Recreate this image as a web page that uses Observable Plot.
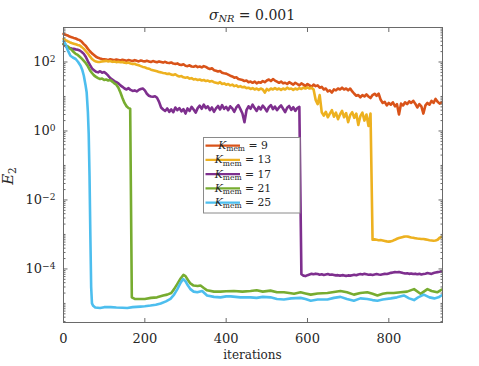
<!DOCTYPE html>
<html>
<head>
<meta charset="utf-8">
<script src="https://cdn.jsdelivr.net/npm/d3@7"></script>
<script src="https://cdn.jsdelivr.net/npm/@observablehq/plot@0.6"></script>
<style>
  html, body { margin: 0; padding: 0; background: #fff; }
  #chart svg { display: block; }
  #chart svg, #chart svg text { font-family: "DejaVu Serif", serif; }
</style>
</head>
<body>
<div id="chart"></div>
<script>
// ---------- data ----------
const seriesK = [9, 13, 17, 21, 25];
const seriesColors = ["#D95319", "#EDB120", "#7E2F8E", "#77AC30", "#4DBEEE"];
const xTicks = [0, 200, 400, 600, 800];
const yTickLabels = [1e-4, 1e-2, 1, 1e2];
const titleText = "0.001";

// K = 9, 13, 17 sampled every 5 iterations, starting at 0
const iterStep = 5;
const e2K9 = [
  650, 620, 590, 545, 525, 500, 480, 450, 430, 385, 330, 290, 240, 205, 178, 160, 142, 132, 126, 122,
  120, 118, 113, 120, 116, 112, 118, 114, 110, 116, 112, 108, 114, 110, 107, 113, 108, 104, 110, 106,
  103, 108, 104, 100, 106, 102, 98, 104, 100, 96, 101, 95, 93, 97, 90, 88, 91, 84, 82, 86,
  78, 76, 80, 74, 73, 77, 71, 74, 70, 76, 72, 66, 63, 66, 58, 56, 53, 55, 49, 47,
  46, 43, 40, 38, 35, 36, 32, 31, 30, 28, 29, 26, 27, 25, 27, 24, 26, 25, 28, 26,
  29, 31, 28, 32, 29, 27, 25, 27, 24, 25, 23, 26, 24, 22, 25, 23, 21, 24, 22, 20,
  23, 21, 19, 22, 20, 21, 18, 19, 16, 17, 14, 15, 13, 16, 15, 17, 16, 18, 16, 17,
  15, 17, 14, 12, 10.5, 11, 9.5, 11, 10, 11.5, 10, 9, 11, 12, 10.5, 12, 8, 6.5, 7, 5.5,
  6.5, 5.8, 6.8, 5.2, 6, 3.0, 6.2, 5.5, 6.8, 6, 7.2, 6.5, 7.5, 6.2, 4.8, 6, 5.2, 3.2, 5.5, 6.5,
  5.8, 7.5, 6.5, 8.5, 7, 6.2, 6.8
];
const e2K13 = [
  465, 430, 400, 375, 355, 340, 325, 310, 300, 270, 240, 205, 175, 145, 122, 110, 103, 100, 101, 104,
  106, 108, 104, 107, 101, 104, 99, 102, 98, 100, 95, 93, 96, 90, 87, 89, 83, 80, 76, 72,
  70, 66, 64, 60, 58, 56, 54, 51, 50, 48, 47, 45, 46, 43, 42, 44, 40, 38, 39, 36,
  35, 36, 33, 34, 31, 32, 30, 31, 29, 30, 28, 29, 27, 28, 26, 25, 24, 26, 23, 24,
  22, 23, 21, 22, 20, 21, 19, 20, 18.5, 19, 17.5, 18, 16.5, 17.5, 16, 17, 15.5, 17, 16, 13,
  16.5, 15, 17, 16, 17.5, 16, 17, 15.5, 17, 16, 18, 16.5, 17, 15.5, 17, 16, 17.5, 16.5, 18, 17,
  18.5, 17, 18, 16, 8, 6, 11, 3.5, 2.8, 3.6, 2.5, 3.2, 4.0, 2.6, 3.4, 2.2, 3.0, 3.8, 2.5, 3.3,
  1.8, 2.9, 3.5, 2.4, 3.2, 1.5, 2.7, 3.4, 2.0, 3.0, 1.4, 3.2, 7.0e-4, 7.2e-4, 7.0e-4, 6.8e-4, 6.9e-4, 6.7e-4, 6.5e-4, 6.3e-4,
  6.2e-4, 6.3e-4, 6.6e-4, 7.0e-4, 7.5e-4, 7.9e-4, 8.2e-4, 8.5e-4, 8.7e-4, 8.7e-4, 8.5e-4, 8.2e-4, 8.0e-4, 7.8e-4, 7.6e-4, 7.5e-4, 7.4e-4, 7.4e-4, 7.2e-4, 7.0e-4,
  6.8e-4, 6.7e-4, 6.6e-4, 6.7e-4, 7.0e-4, 8.0e-4, 8.5e-4
];
const e2K17 = [
  330, 290, 265, 255, 245, 240, 232, 225, 215, 195, 172, 140, 105, 82, 65, 58, 52, 50, 54, 49,
  51, 46, 40, 34, 31, 28, 26, 24, 21, 19, 17, 16, 17.5, 15.5, 14.5, 15, 14, 15.5, 16.5, 17,
  15, 12, 10.5, 10, 9.8, 10.2, 9.2, 7, 4.8, 4.2, 3.8, 4.5, 3.6, 4.2, 3.5, 4.8, 4.0, 4.6, 3.7, 4.3,
  3.2, 4.5, 3.8, 5.0, 4.2, 3.4, 4.6, 5.4, 4.4, 5.8, 4.6, 5.2, 4.0, 4.8, 3.6, 4.5, 5.3, 4.2, 5.6, 4.4,
  5.0, 4.0, 5.2, 4.5, 3.6, 4.8, 5.6, 4.3, 3.2, 1.8, 4.0, 5.2, 4.4, 5.8, 4.6, 3.8, 5.0, 4.2, 5.4, 4.6,
  3.7, 4.9, 5.6, 4.3, 5.1, 4.0, 4.8, 5.5, 4.4, 3.5, 4.7, 5.3, 4.1, 4.9, 3.8, 4.6, 5.0, 7.0e-5, 6.4e-5, 6.2e-5,
  6.6e-5, 6.9e-5, 7.2e-5, 7.0e-5, 7.3e-5, 7.1e-5, 6.8e-5, 7.0e-5, 6.7e-5, 6.9e-5, 7.1e-5, 6.8e-5, 6.9e-5, 6.7e-5, 6.5e-5, 6.6e-5, 6.4e-5, 6.6e-5, 6.5e-5, 6.3e-5,
  6.5e-5, 6.4e-5, 6.6e-5, 6.8e-5, 6.6e-5, 6.9e-5, 7.1e-5, 6.9e-5, 7.2e-5, 7.0e-5, 6.8e-5, 6.9e-5, 6.7e-5, 6.9e-5, 7.1e-5, 6.9e-5, 6.8e-5, 7.0e-5, 7.2e-5, 7.1e-5,
  7.4e-5, 7.7e-5, 7.9e-5, 8.1e-5, 8.0e-5, 8.2e-5, 7.9e-5, 7.6e-5, 7.4e-5, 7.5e-5, 7.2e-5, 7.4e-5, 7.1e-5, 7.3e-5, 7.0e-5, 7.2e-5, 6.9e-5, 7.1e-5, 7.3e-5, 7.6e-5,
  7.4e-5, 7.2e-5, 7.6e-5, 7.9e-5, 8.1e-5, 8.3e-5, 8.6e-5
];

// K = 21 and K = 25 as (iteration, E2) pairs
const itK21 = [0, 5, 10, 15, 20, 25, 30, 35, 40, 45, 50, 55, 60, 65, 70, 75, 80, 85, 90, 95, 100, 105, 110, 115, 120, 125, 130, 135, 140, 145, 150, 155, 160,
  164, 168, 175, 185, 200, 215, 230, 245, 255, 265, 272, 280, 288, 295, 300, 306, 312, 320, 330, 337, 345, 353, 370, 386, 400, 419, 440, 460, 475, 490, 509, 525, 542, 555, 567, 583, 595, 608, 625, 649, 665, 681, 697, 714, 730, 747, 760, 772, 785, 796, 812, 829, 845, 862, 878, 895, 905, 919, 930];
const e2K21 = [330, 305, 285, 250, 225, 195, 172, 160, 142, 125, 108, 92, 75, 58, 48, 41, 37, 34, 32, 33, 30, 31, 29, 30, 27, 24, 22, 18, 13, 9, 6.5, 5.2, 4.6,
  4.4, 1.5e-5, 1.35e-5, 1.35e-5, 1.35e-5, 1.45e-5, 1.5e-5, 1.7e-5, 1.8e-5, 2.0e-5, 2.6e-5, 3.7e-5, 5.3e-5, 6.7e-5, 6.2e-5, 4.8e-5, 3.8e-5, 3.3e-5, 3.2e-5, 3.3e-5, 2.8e-5, 2.4e-5, 2.2e-5, 2.2e-5, 2.25e-5, 2.3e-5, 2.2e-5, 2.3e-5, 2.4e-5, 2.2e-5, 2.35e-5, 2.1e-5, 2.1e-5, 2.0e-5, 1.9e-5, 2.1e-5, 1.95e-5, 1.8e-5, 1.95e-5, 2.0e-5, 2.15e-5, 2.3e-5, 2.1e-5, 1.8e-5, 2.0e-5, 2.1e-5, 1.9e-5, 1.7e-5, 1.9e-5, 2.0e-5, 2.0e-5, 2.1e-5, 2.2e-5, 2.6e-5, 1.9e-5, 2.6e-5, 2.3e-5, 2.1e-5, 2.5e-5];

const itK25 = [0, 5, 9, 13, 17, 23, 30, 36, 42, 46, 50, 54, 57, 60, 62, 64, 66, 68, 70, 73, 78, 90, 100, 116, 130, 145, 157, 170, 189, 200,
  214, 227, 239, 252, 263, 272, 280, 288, 294, 300, 306, 312, 320, 329, 341, 353, 370, 386, 400, 411, 435, 460, 475, 490, 509, 525, 542, 560, 583, 595,
  608, 625, 649, 665, 681, 697, 714, 730, 747, 760, 772, 785, 805, 820, 837, 850, 862, 872, 886, 900, 912, 922, 930];
const e2K25 = [400, 330, 240, 190, 152, 135, 122, 100, 78, 60, 40, 22, 13, 3.5, 0.8, 0.05, 1e-3, 3e-5, 1.0e-5, 8.5e-6,
  7.6e-6, 7.4e-6, 7.8e-6, 7.8e-6, 7.6e-6, 7.5e-6, 7.4e-6, 7.8e-6, 8.1e-6, 8.3e-6,
  8.7e-6, 9.2e-6, 1.0e-5, 1.15e-5, 1.35e-5, 1.8e-5, 2.6e-5, 4.0e-5, 5.1e-5, 4.4e-5,
  3.3e-5, 2.6e-5, 2.2e-5, 2.1e-5, 2.3e-5, 1.7e-5, 1.55e-5, 1.5e-5, 1.6e-5, 1.6e-5,
  1.5e-5, 1.5e-5, 1.45e-5, 1.55e-5, 1.5e-5, 1.35e-5, 1.3e-5, 1.4e-5, 1.45e-5, 1.35e-5,
  1.2e-5, 1.3e-5, 1.3e-5, 1.45e-5, 1.55e-5, 1.35e-5, 1.2e-5, 1.4e-5, 1.35e-5, 1.25e-5,
  1.2e-5, 1.3e-5, 1.4e-5, 1.5e-5, 1.7e-5, 1.4e-5, 1.25e-5, 1.5e-5, 1.8e-5, 1.5e-5,
  1.4e-5, 1.5e-5, 1.7e-5];

// ---------- table for Plot ----------
const rows = [];
[e2K9, e2K13, e2K17].forEach((arr, s) =>
  arr.forEach((v, i) => rows.push({K: seriesK[s], it: i * iterStep, E2: v})));
[[itK21, e2K21, 3], [itK25, e2K25, 4]].forEach(([xs, ys, s]) =>
  xs.forEach((x, i) => rows.push({K: seriesK[s], it: x, E2: ys[i]})));

// minor log ticks
const yMinor = [];
for (let e = -6; e <= 2; e++) for (let m = 1; m <= 9; m++) {
  const v = m * Math.pow(10, e);
  if (v > 2.8e-6 && v < 1e3 && !yTickLabels.includes(v)) yMinor.push(v);
}

const INK = "#262626";
const AX = "#6a6a6a";

const plot = Plot.plot({
  width: 479,
  height: 366,
  marginLeft: 63,
  marginRight: 37,
  marginTop: 27,
  marginBottom: 44,
  style: {fontFamily: "DejaVu Serif", fontSize: "13px", color: INK, background: "#fff"},
  x: {domain: [0, 932]},
  y: {type: "log", domain: [2.8e-6, 1e3]},
  color: {domain: seriesK, range: seriesColors},
  marks: [
    Plot.line(rows, {x: "it", y: "E2", z: "K", stroke: "K", strokeWidth: 2.6, strokeLinejoin: "round"}),
    Plot.frame({stroke: AX, strokeWidth: 1}),
    // inward ticks on all four sides
    Plot.axisX({ticks: xTicks, anchor: "bottom", tickSize: 4, dy: -4, fill: "none", stroke: AX}),
    Plot.axisX({ticks: xTicks, anchor: "top", tickSize: 4, dy: 4, fill: "none", stroke: AX}),
    Plot.axisY({ticks: yTickLabels, anchor: "left", tickSize: 4.5, dx: 4.5, fill: "none", stroke: AX}),
    Plot.axisY({ticks: yTickLabels, anchor: "right", tickSize: 4.5, dx: -4.5, fill: "none", stroke: AX}),
    Plot.axisY({ticks: yMinor, anchor: "left", tickSize: 2.5, dx: 2.5, fill: "none", stroke: AX}),
    Plot.axisY({ticks: yMinor, anchor: "right", tickSize: 2.5, dx: -2.5, fill: "none", stroke: AX}),
    // tick labels
    Plot.axisX({ticks: xTicks, anchor: "bottom", tickSize: 0, tickPadding: 11, label: null, tickFormat: d => String(d)}),
    Plot.axisY({ticks: yTickLabels, anchor: "left", tickSize: 0, tickPadding: 8, label: null,
      tickFormat: d => "10^" + Math.round(Math.log10(d))})
  ]
});

document.getElementById("chart").appendChild(plot);
const svg = d3.select(plot);

// superscript exponents on y tick labels
svg.selectAll('g[aria-label="y-axis tick label"] text').each(function () {
  const t = this.textContent;
  if (!t.includes("^")) return;
  const [base, exp] = t.split("^");
  const sel = d3.select(this);
  sel.text(base);
  sel.append("tspan").attr("dy", "-0.45em").attr("font-size", "0.7em")
    .text(exp.replace("-", "\u2212"));
});

// title
const title = svg.append("text")
  .attr("x", 252).attr("y", 19.5)
  .attr("text-anchor", "middle")
  .attr("font-size", 14).attr("fill", INK);
title.append("tspan").attr("font-style", "italic").text("\u03C3");
title.append("tspan").attr("font-style", "italic").attr("font-size", "0.7em").attr("dy", "0.3em").text("NR");
title.append("tspan").attr("dy", "-0.21em").text(" = " + titleText);

// y label
const ylab = svg.append("text")
  .attr("transform", "translate(13,176) rotate(-90)")
  .attr("text-anchor", "middle")
  .attr("font-size", 15).attr("fill", INK);
ylab.append("tspan").attr("font-style", "italic").text("E");
ylab.append("tspan").attr("font-size", "0.7em").attr("dy", "0.3em").text("2");

// x label
svg.append("text")
  .attr("x", 252.5).attr("y", 359)
  .attr("text-anchor", "middle")
  .attr("font-size", 12).attr("fill", INK)
  .text("iterations");

// legend
const lg = svg.append("g").attr("font-size", 10.8).attr("fill", INK);
lg.append("rect").attr("x", 203.5).attr("y", 137.5).attr("width", 96.5).attr("height", 75.5)
  .attr("fill", "#fff").attr("stroke", "#8a8a8a").attr("stroke-width", 1);
seriesK.forEach((k, i) => {
  const y = 145.7 + i * 14.25;
  lg.append("line").attr("x1", 205.5).attr("x2", 240).attr("y1", y).attr("y2", y)
    .attr("stroke", seriesColors[i]).attr("stroke-width", 2.3);
  const t = lg.append("text").attr("x", 243).attr("y", y + 3.5);
  t.append("tspan").attr("font-style", "italic").text("K");
  t.append("tspan").attr("font-size", "0.7em").attr("dy", "0.3em").text("mem");
  t.append("tspan").attr("dy", "-0.21em").text(" = " + k);
});
</script>
</body>
</html>
